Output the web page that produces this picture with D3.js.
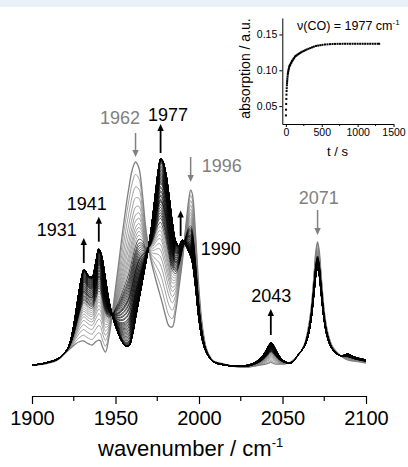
<!DOCTYPE html>
<html><head><meta charset="utf-8">
<script src="https://cdn.jsdelivr.net/npm/d3@7"></script>
<style>
html,body{margin:0;padding:0;background:#fff;}
svg{display:block;font-family:"Liberation Sans",Arial,sans-serif;}
</style></head><body>
<svg id="chart" width="408" height="467"></svg>
<script>
// IR spectra in the CO stretching region (absorbance vs wavenumber)
const wavenumbers = [1900,1905,1910,1914,1917,1920,1922,1924,1926,1928,1930,1931,1932,1934,1936,1938,1940,1941,1942,1944,1946,1948,1950,1952,1954,1956,1958,1960,1962,1964,1966,1968,1970,1972,1974,1976,1977,1978,1980,1982,1984,1986,1988,1990,1992,1994,1995,1996,1998,2000,2002,2004,2006,2008,2010,2015,2020,2025,2030,2034,2037,2040,2042,2043,2044,2046,2048,2051,2055,2060,2063,2065,2067,2069,2070,2071,2072,2073,2075,2077,2080,2085,2089,2093,2100];
// first recorded spectrum (t = 0)
const absStart = [0.0067,0.0070,0.0080,0.0093,0.0113,0.0147,0.0167,0.0187,0.0207,0.0220,0.0227,0.0227,0.0220,0.0207,0.0200,0.0220,0.0233,0.0227,0.0193,0.0153,0.0247,0.0400,0.0580,0.0753,0.0933,0.1100,0.1247,0.1367,0.1420,0.1380,0.1220,0.0993,0.0833,0.0727,0.0640,0.0560,0.0520,0.0480,0.0393,0.0327,0.0320,0.0420,0.0580,0.0753,0.0980,0.1180,0.1233,0.1207,0.0927,0.0567,0.0327,0.0193,0.0133,0.0100,0.0087,0.0073,0.0060,0.0053,0.0053,0.0060,0.0067,0.0073,0.0080,0.0087,0.0080,0.0073,0.0073,0.0073,0.0087,0.0140,0.0200,0.0287,0.0427,0.0687,0.0827,0.0887,0.0827,0.0687,0.0427,0.0287,0.0187,0.0127,0.0100,0.0093,0.0080];
// last recorded spectrum (t = 1300 s)
const absEnd = [0.0067,0.0073,0.0087,0.0100,0.0120,0.0153,0.0193,0.0273,0.0400,0.0547,0.0667,0.0700,0.0693,0.0660,0.0653,0.0740,0.0840,0.0820,0.0780,0.0640,0.0500,0.0400,0.0327,0.0267,0.0220,0.0193,0.0193,0.0260,0.0380,0.0500,0.0620,0.0740,0.0867,0.1027,0.1220,0.1393,0.1440,0.1433,0.1353,0.1200,0.1020,0.0893,0.0860,0.0900,0.0867,0.0820,0.0793,0.0753,0.0580,0.0367,0.0233,0.0160,0.0120,0.0093,0.0080,0.0067,0.0060,0.0060,0.0067,0.0087,0.0113,0.0160,0.0200,0.0213,0.0207,0.0167,0.0127,0.0093,0.0080,0.0144,0.0187,0.0247,0.0360,0.0560,0.0667,0.0713,0.0667,0.0560,0.0360,0.0247,0.0169,0.0127,0.0140,0.0120,0.0100];

// band growth at 1977 cm-1 (inset)
const kineticTime = [0,2,4,6,8,10,12,14,16,18,20,23,26,29,32,36,40,45,50,56,62,70,78,86,95,105,115,126,138,150,165,180,195,210,230,250,270,290,315,340,365,390,420,450,480,510,545,580,615,650,685,720,755,790,825,860,895,930,965,1000,1035,1070,1105,1140,1175,1210,1245,1280,1300];
const kineticAbs = [0.037,0.045,0.053,0.060,0.066,0.071,0.075,0.079,0.082,0.085,0.088,0.091,0.094,0.096,0.098,0.100,0.102,0.104,0.106,0.107,0.108,0.110,0.111,0.113,0.114,0.116,0.117,0.119,0.120,0.121,0.122,0.123,0.124,0.125,0.126,0.127,0.128,0.129,0.130,0.131,0.132,0.133,0.134,0.1345,0.135,0.1355,0.136,0.1362,0.1365,0.1367,0.1368,0.1369,0.1369,0.137,0.137,0.137,0.137,0.137,0.137,0.137,0.137,0.137,0.137,0.137,0.137,0.137,0.137,0.137,0.137];

const xTicks = [1900,1950,2000,2050,2100];
const xMinorTicks = [1925,1975,2025,2075];
const bandLabels = ["1931","1941","1962","1977","1990","1996","2043","2071"];
const bandPositions = [1931,1940,1962,1977,1989,1995,2043,2071];
const bandTrend = ["up","up","down","up","up","down","up","down"];
const insetXTicks = [0,500,1000,1500];
const insetXMinor = [250,750,1250];
const insetYTicks = [0.05,0.10,0.15];

const svg = d3.select("#chart");
const W = 408, H = 467;
const font = "'Liberation Sans', Arial, sans-serif";

svg.append("rect").attr("x",0).attr("y",0).attr("width",W).attr("height",H).attr("fill","#fff");
svg.append("rect").attr("x",0).attr("y",0).attr("width",W).attr("height",7).attr("fill","#eaf0f7");

// ---------- main spectra ----------
const x = d3.scaleLinear().domain([1900,2100]).range([32,366]);
const y = d3.scaleLinear().domain([0,0.15]).range([375,150]);

const a0 = kineticAbs[0], aEnd = kineticAbs[kineticAbs.length-1];
const spectra = kineticTime.map((t,i)=>{
  const f = (kineticAbs[i]-a0)/(aEnd-a0);
  return {t, values: wavenumbers.map((w,j)=>absStart[j] + f*(absEnd[j]-absStart[j]))};
});

const line = d3.line()
  .x((d,j)=>x(wavenumbers[j]))
  .y(d=>y(d))
  .curve(d3.curveCatmullRom.alpha(0.5));

// spectra of the first 20 s in grey, later ones in black
function styleFor(t){
  if (t === 0) return {c:"#7f7f7f", w:1.3};
  if (t <= 20) return {c:"#808080", w:0.75};
  return {c:"#000", w:0.7};
}

svg.append("g").selectAll("path").data(spectra).join("path")
  .attr("d", d=>line(d.values))
  .attr("fill","none")
  .attr("stroke", d=>styleFor(d.t).c)
  .attr("stroke-width", d=>styleFor(d.t).w)
  .attr("stroke-linejoin","round");

// x axis
const axisY = 396;
const gx = svg.append("g").attr("transform",`translate(0,${axisY})`)
  .call(d3.axisBottom(x).tickValues(xTicks).tickSize(8).tickSizeOuter(0).tickPadding(7).tickFormat(d3.format("d")));
gx.select(".domain").attr("stroke","#000").attr("stroke-width",1.2);
gx.selectAll(".tick line").attr("stroke","#000").attr("stroke-width",1.2);
gx.selectAll(".tick text").attr("font-family",font).attr("font-size",20).attr("fill","#000");
svg.append("g").attr("transform",`translate(0,${axisY})`)
  .selectAll("line").data(xMinorTicks).join("line")
  .attr("x1",d=>x(d)).attr("x2",d=>x(d)).attr("y1",0).attr("y2",5)
  .attr("stroke","#000").attr("stroke-width",1.2);

const xt = svg.append("text").attr("x",98).attr("y",456)
  .attr("font-family",font).attr("font-size",22).attr("fill","#000");
xt.append("tspan").text("wavenumber / cm");
xt.append("tspan").attr("font-size",13).attr("dy",-9).text("-1");

// band markers
const markerLayout = {
  "1931": {lx:56.7, ly:235.5, anchor:"middle", tail:263, tip:238},
  "1941": {lx:86.7, ly:209.7, anchor:"middle", tail:241.7, tip:216.7},
  "1962": {lx:120, ly:124, anchor:"middle", tail:133, tip:157},
  "1977": {lx:168, ly:121, anchor:"middle", tail:153, tip:124},
  "1990": {lx:200.7, ly:254.7, anchor:"start", tail:236, tip:210.5},
  "1996": {lx:201.7, ly:172, anchor:"start", tail:157, tip:182},
  "2043": {lx:271.3, ly:302.4, anchor:"middle", tail:335, tip:309},
  "2071": {lx:318.7, ly:203.7, anchor:"middle", tail:210, tip:235}
};

function arrow(g, ax, yTail, yTip, color, sw){
  const dir = yTip < yTail ? -1 : 1;
  const headL = 7, headW = 3.2;
  g.append("line").attr("x1",ax).attr("x2",ax).attr("y1",yTail).attr("y2",yTip - dir*headL + dir*0.5)
    .attr("stroke",color).attr("stroke-width",sw);
  g.append("path")
    .attr("d",`M${ax},${yTip} L${ax-headW},${yTip-dir*headL} L${ax+headW},${yTip-dir*headL} Z`)
    .attr("fill",color);
}

const gm = svg.append("g");
bandLabels.forEach((lab,i)=>{
  const L = markerLayout[lab];
  const col = bandTrend[i]==="up" ? "#000" : "#808080";
  arrow(gm, x(bandPositions[i]), L.tail, L.tip, col, bandTrend[i]==="up" ? 1.8 : 1.5);
  gm.append("text").attr("x",L.lx).attr("y",L.ly).attr("text-anchor",L.anchor)
    .attr("font-family",font).attr("font-size",18).attr("fill",col).text(lab);
});

// ---------- inset: kinetics at 1977 cm-1 ----------
const xi = d3.scaleLinear().domain([-50,1500]).range([282.3,393.5]);
const yi = d3.scaleLinear().domain([0.025,0.173]).range([124,18]);

const gxi = svg.append("g").attr("transform","translate(0,124)")
  .call(d3.axisBottom(xi).tickValues(insetXTicks).tickSize(3).tickSizeOuter(0).tickPadding(2).tickFormat(d3.format("d")));
const gyi = svg.append("g").attr("transform","translate(282.3,0)")
  .call(d3.axisLeft(yi).tickValues(insetYTicks).tickSize(3).tickSizeOuter(0).tickPadding(2).tickFormat(d3.format(".2f")));
[gxi,gyi].forEach(g=>{
  g.select(".domain").attr("stroke","#000").attr("stroke-width",1);
  g.selectAll(".tick line").attr("stroke","#000");
  g.selectAll(".tick text").attr("font-family",font).attr("font-size",10.5).attr("fill","#000");
});
svg.append("g").attr("transform","translate(0,124)")
  .selectAll("line").data(insetXMinor).join("line")
  .attr("x1",d=>xi(d)).attr("x2",d=>xi(d)).attr("y1",0).attr("y2",2)
  .attr("stroke","#000");

svg.append("g").selectAll("rect").data(kineticTime).join("rect")
  .attr("x",(d)=>xi(d)-1).attr("y",(d,i)=>yi(kineticAbs[i])-1)
  .attr("width",2).attr("height",2).attr("fill","#000");

svg.append("text").attr("x",337.5).attr("y",156).attr("text-anchor","middle")
  .attr("font-family",font).attr("font-size",13).text("t / s");
svg.append("text").attr("transform","translate(250,68.5) rotate(-90)").attr("text-anchor","middle")
  .attr("font-family",font).attr("font-size",14).text("absorption / a.u.");
const nu = svg.append("text").attr("x",297).attr("y",30)
  .attr("font-family",font).attr("font-size",12.5);
nu.append("tspan").text("\u03bd(CO) = 1977 cm");
nu.append("tspan").attr("font-size",8).attr("dy",-5).text("-1");
</script>
</body></html>
